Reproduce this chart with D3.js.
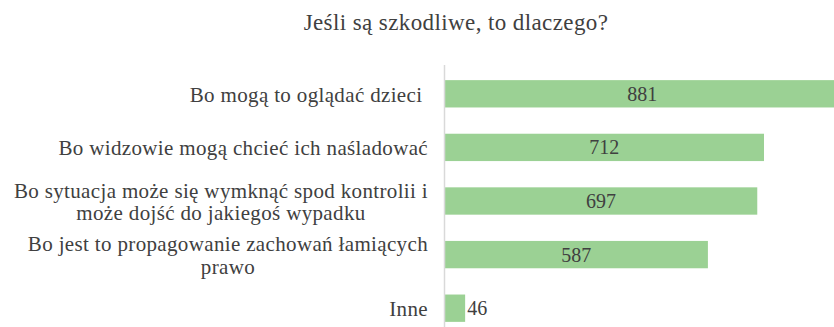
<!DOCTYPE html>
<html>
<head>
<meta charset="utf-8">
<script src="https://cdn.jsdelivr.net/npm/d3@7"></script>
<style>
  html, body { margin: 0; padding: 0; background: #fff; }
  svg { display: block; }
</style>
</head>
<body>
<svg id="chart" width="834" height="327"></svg>
<script>
// Survey answers: why such content is harmful
const categories = [
  ["Bo mogą to oglądać dzieci "],
  ["Bo widzowie mogą chcieć ich naśladować"],
  ["Bo sytuacja może się wymknąć spod kontrolii i", "może dojść do jakiegoś wypadku"],
  ["Bo jest to propagowanie zachowań łamiących", "prawo"],
  ["Inne"]
];
const values = [881, 712, 697, 587, 46];
const title = "Jeśli są szkodliwe, to dlaczego?";

const W = 834, H = 327;
const FONT = "'Liberation Serif', Tinos, 'Times New Roman'";
const TEXT = "#404040";
const svg = d3.select("#chart");
const plot = { left: 444.5, top: 67, bottom: 335 };

const keys = d3.range(values.length);
const y = d3.scaleBand().domain(keys).range([plot.top, plot.bottom]).paddingInner(0.49).paddingOuter(0.245);
const x = d3.scaleLinear().domain([0, 712]).range([plot.left, 764]);

svg.append("defs").append("clipPath").attr("id", "plotClip")
  .append("rect").attr("x", plot.left).attr("y", 0).attr("width", W - plot.left).attr("height", H);

// title
svg.append("text")
  .attr("x", 456).attr("y", 30)
  .attr("text-anchor", "middle")
  .style("font-family", FONT)
  .style("font-size", "23px")
  .style("letter-spacing", "0.4px")
  .attr("fill", TEXT)
  .text(title);

// bars (the longest one runs past the right edge)
const g = svg.append("g").attr("clip-path", "url(#plotClip)");
g.selectAll("rect.bar").data(keys).join("rect")
  .attr("class", "bar")
  .attr("x", x(0))
  .attr("y", i => y(i))
  .attr("width", i => x(values[i]) - x(0))
  .attr("height", y.bandwidth())
  .attr("fill", "#9bd194");

// value labels: centred in the bar, or just after a short bar
svg.selectAll("text.val").data(keys).join("text")
  .attr("class", "val")
  .attr("x", i => values[i] < 100 ? x(values[i]) + 2 : (x(0) + x(values[i])) / 2)
  .attr("y", i => y(i) + y.bandwidth() / 2)
  .attr("dy", "0.35em")
  .attr("text-anchor", i => values[i] < 100 ? "start" : "middle")
  .style("font-family", FONT)
  .style("font-size", "20px")
  .attr("fill", TEXT)
  .text(i => values[i]);

// category axis line
svg.append("line")
  .attr("x1", plot.left).attr("x2", plot.left)
  .attr("y1", 65).attr("y2", H)
  .attr("stroke", "#d9d9d9").attr("stroke-width", 1.5);

// category labels: lines centred within a block whose right edge sits at the axis
const lineH = 22.8;
const labelRight = 428;
const labels = svg.selectAll("g.lab").data(keys).join("g").attr("class", "lab");
labels.each(function(i) {
  const lines = categories[i];
  const gl = d3.select(this);
  const t = gl.append("text")
    .style("font-family", FONT)
    .style("font-size", "21px")
    .style("letter-spacing", "0.35px")
    .style("white-space", "pre")
    .attr("fill", TEXT)
    .attr("text-anchor", "middle");
  const cy = y(i) + y.bandwidth() / 2 + 1;
  const y0 = cy - (lines.length - 1) * lineH / 2;
  lines.forEach((s, k) => {
    t.append("tspan").attr("x", 0).attr("y", y0 + k * lineH).attr("dy", "0.33em").text(s);
  });
  const widest = d3.max(t.selectAll("tspan").nodes(), n => n.getComputedTextLength());
  gl.attr("transform", `translate(${labelRight - widest / 2},0)`);
});
</script>
</body>
</html>
